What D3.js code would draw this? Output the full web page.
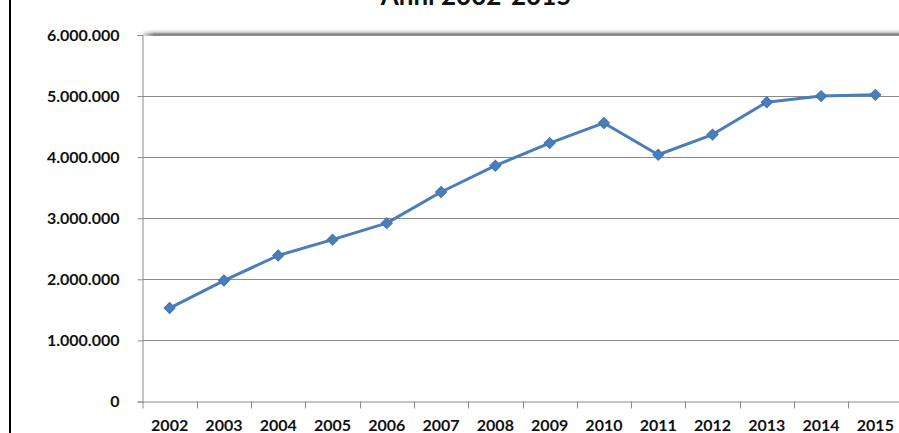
<!DOCTYPE html>
<html><head><meta charset="utf-8">
<script src="https://cdn.jsdelivr.net/npm/d3@7"></script>
<style>
html,body{margin:0;padding:0;background:#fff;overflow:hidden}
svg{display:block}
text{font-family:Lato,"Open Sans",sans-serif;font-weight:700;fill:#111}
</style></head>
<body>
<svg id="c" width="899" height="433"></svg>
<script>
const years = ["2002","2003","2004","2005","2006","2007","2008","2009","2010","2011","2012","2013","2014","2015"];
const values = [1530000,1980000,2390000,2650000,2920000,3430000,3860000,4230000,4560000,4040000,4370000,4900000,5000000,5020000];
const yTicks = [0,1000000,2000000,3000000,4000000,5000000,6000000];
const title = "Anni 2002-2015";

const svg = d3.select("#c");
const W = 899, H = 433;
const pLeft = 142.5, pRight = 902.5, pTop = 35, pBottom = 401.5;

const x = d3.scaleBand().domain(years).range([pLeft, pRight]).padding(0);
const y = d3.scaleLinear().domain([0, 6000000]).range([pBottom, pTop]);
const fmt = v => d3.format(",")(v).replace(/,/g, ".");

// outer left border
svg.append("line").attr("x1",10).attr("x2",10).attr("y1",0).attr("y2",H)
  .attr("stroke","#000").attr("stroke-width",2);

// title (partially cut off, as in the reference)
svg.append("text").attr("x",476).attr("y",5).attr("text-anchor","middle")
  .style("font-size","26px").text(title);

// shadow gradient for top border
const defs = svg.append("defs");
const g1 = defs.append("linearGradient").attr("id","sh").attr("x1",0).attr("x2",0).attr("y1",0).attr("y2",1);
g1.append("stop").attr("offset","0%").attr("stop-color","#fff").attr("stop-opacity",0);
g1.append("stop").attr("offset","100%").attr("stop-color","#777");
const g2 = defs.append("linearGradient").attr("id","fadeL").attr("x1",0).attr("x2",1).attr("y1",0).attr("y2",0);
g2.append("stop").attr("offset","0%").attr("stop-color","#fff");
g2.append("stop").attr("offset","100%").attr("stop-color","#fff").attr("stop-opacity",0);

// gridlines
svg.append("g").selectAll("line").data(yTicks.filter(d=>d>0)).join("line")
  .attr("x1",pLeft).attr("x2",W).attr("y1",d=>Math.round(y(d))+0.5).attr("y2",d=>Math.round(y(d))+0.5)
  .attr("stroke","#8a8a8a").attr("stroke-width",1);

svg.append("rect").attr("x",pLeft).attr("y",y(6000000)-7).attr("width",W-pLeft).attr("height",7)
  .attr("fill","url(#sh)");
svg.append("line").attr("x1",pLeft).attr("x2",W).attr("y1",y(6000000)-0.5).attr("y2",y(6000000)-0.5)
  .attr("stroke","#888").attr("stroke-width",2);
svg.append("rect").attr("x",pLeft-4).attr("y",y(6000000)-8).attr("width",16).attr("height",10)
  .attr("fill","url(#fadeL)");

// y axis
const yAxis = d3.axisLeft(y).tickValues(yTicks).tickFormat(fmt).tickSize(5).tickPadding(18);
const ya = svg.append("g").attr("transform",`translate(${pLeft},0)`).call(yAxis);
ya.select(".domain").attr("stroke","#8a8a8a");
ya.selectAll(".tick line").attr("stroke","#8a8a8a");
ya.selectAll("text").style("font-size","16px").style("font-family","Lato,sans-serif").attr("fill","#111");

// x axis
const xa = svg.append("g").attr("transform",`translate(0,${pBottom})`)
  .call(d3.axisBottom(x).tickSize(0).tickPadding(18));
xa.select(".domain").attr("stroke","#8a8a8a");
xa.selectAll(".tick line").remove();
xa.selectAll("text").style("font-size","16px").style("font-family","Lato,sans-serif").attr("fill","#111");
// boundary ticks between categories
svg.append("g").selectAll("line").data(years.slice(1)).join("line")
  .attr("x1",d=>Math.round(x(d))+0.5).attr("x2",d=>Math.round(x(d))+0.5)
  .attr("y1",pBottom).attr("y2",pBottom+7).attr("stroke","#8a8a8a");
svg.append("line").attr("x1",pLeft+0.5).attr("x2",pLeft+0.5).attr("y1",pBottom).attr("y2",pBottom+7).attr("stroke","#8a8a8a");

// line
const cx = d => x(d) + x.bandwidth()/2;
const line = d3.line().x((d,i)=>cx(years[i])).y(d=>y(d));
svg.append("path").datum(values).attr("d",line).attr("fill","none")
  .attr("stroke","#4a7ebb").attr("stroke-width",3).attr("stroke-linejoin","round");

// markers
svg.append("g").selectAll("path").data(values).join("path")
  .attr("d",d3.symbol().type(d3.symbolSquare).size(60))
  .attr("transform",(d,i)=>`translate(${cx(years[i])},${y(d)}) rotate(45)`)
  .attr("fill","#4a7ebb").attr("stroke","#3f73b3").attr("stroke-width",1);
</script>
</body></html>
